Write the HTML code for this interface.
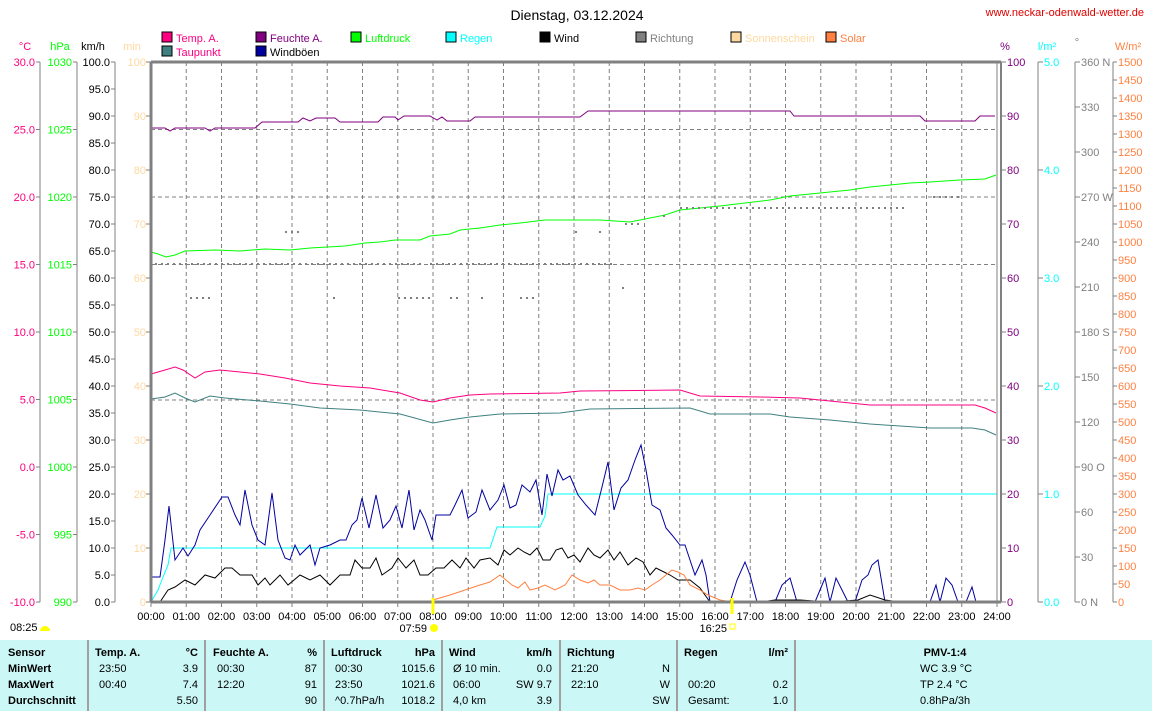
<!DOCTYPE html>
<html><head><meta charset="utf-8">
<style>
body{margin:0;background:#fff;width:1152px;height:711px;overflow:hidden;font-family:"Liberation Sans",sans-serif;}
svg{position:absolute;left:0;top:0}
text{font-family:"Liberation Sans",sans-serif;font-size:11px}
</style></head><body>
<svg id="s" width="1152" height="711" xmlns="http://www.w3.org/2000/svg">
<text x="577" y="20" text-anchor="middle" style="font-size:14px" fill="#000">Dienstag, 03.12.2024</text>
<text x="1144" y="16" text-anchor="end" fill="#e00000" style="font-size:11px">www.neckar-odenwald-wetter.de</text>
<g id="g"></g>
</svg>
<script>
const g=document.getElementById('g');let h='';
const X0=151,X1=997,Y0=62,Y1=602;
function L(x1,y1,x2,y2,c,w,d){h+=`<line x1="${x1}" y1="${y1}" x2="${x2}" y2="${y2}" stroke="${c}" stroke-width="${w||1}" ${d?`stroke-dasharray="${d}"`:''}/>`}
function T(x,y,t,c,a,st){h+=`<text x="${x}" y="${y}" fill="${c}" text-anchor="${a||'start'}" ${st?`style="${st}"`:''}>${t}</text>`}
function P(pts,c,w,d){h+=`<polyline fill="none" stroke="${c}" stroke-width="${w||1}" ${d?`stroke-dasharray="${d}"`:''} points="${pts.map(p=>p.join(',')).join(' ')}"/>`}
const hx=i=>X0+(X1-X0)*i/24;
// grid
for(let i=1;i<24;i++)L(hx(i),Y0,hx(i),Y1,'#808080',1,'4,3');
[129.5,197,264.5,400].forEach(y=>L(X0,y,X1,y,'#808080',1,'4,3'));
// legend
const leg=[[162,32,'#ff0080','Temp. A.','#ff0080'],[256,32,'#800080','Feuchte A.','#800080'],[351,32,'#00ff00','Luftdruck','#00ff00'],[446,32,'#00ffff','Regen','#00ffff'],[540,32,'#000','Wind','#000'],[636,32,'#808080','Richtung','#808080'],[731,32,'#ffd8a0','Sonnenschein','#ffd8a0'],[826,32,'#ff8040','Solar','#ff8040'],[162,46,'#408080','Taupunkt','#ff0080'],[256,46,'#0000a0','Windböen','#000']];
leg.forEach(l=>{h+=`<rect x="${l[0]}" y="${l[1]}" width="10" height="10" fill="${l[2]}" stroke="#000"/>`;T(l[0]+14,l[1]+10,l[3],l[4])});
// left axes
T(25,50,'°C','#ff0080','middle');T(60,50,'hPa','#00ff00','middle');T(93,50,'km/h','#000','middle');T(132,50,'min','#ffd8a0','middle');
L(40,Y0,40,Y1,'#808080');L(77,Y0,77,Y1,'#808080');L(115,Y0,115,Y1,'#808080');
for(let i=0;i<=8;i++){const y=Y0+i*67.5;L(36,y,40,y,'#808080');T(35,y+4,(30-5*i).toFixed(1),'#ff0080','end');L(73,y,77,y,'#808080');T(72,y+4,1030-5*i,'#00ff00','end');}
for(let i=0;i<=20;i++){const y=Y0+i*27;L(111,y,115,y,'#808080');T(110,y+4,(100-5*i).toFixed(1),'#000','end');}
for(let i=0;i<=10;i++){const y=Y0+i*54;L(146,y,151,y,'#808080');T(146,y+4,100-10*i,'#ffd8a0','end');}
// right axes
T(1005,50,'%','#800080','middle');T(1047,50,'l/m²','#00ffff','middle');T(1077,46,'°','#808080','middle');T(1128,50,'W/m²','#ff8040','middle');
L(1001,Y0,1001,Y1,'#808080',2);L(1038,Y0,1038,Y1,'#808080');L(1075,Y0,1075,Y1,'#808080');L(1113,Y0,1113,Y1,'#808080');
for(let i=0;i<=10;i++){const y=Y0+i*54;L(1001,y,1006,y,'#808080');T(1007,y+4,100-10*i,'#800080');}
for(let i=0;i<=5;i++){const y=Y0+i*108;L(1038,y,1043,y,'#808080');T(1044,y+4,(5-i).toFixed(1),'#00ffff');}
const dl={360:'360 N',270:'270 W',180:'180 S',90:'90  O',0:'0    N'};
for(let i=0;i<=12;i++){const y=Y0+i*45,v=360-30*i;L(1075,y,1080,y,'#808080');T(1081,y+4,dl[v]||v,'#808080');}
for(let i=0;i<=30;i++){const y=Y0+i*18;L(1113,y,1117,y,'#808080');T(1118,y+4,1500-50*i,'#ff8040');}
// series
P([[151,128],[165,128],[170,131],[175,128],[205,128],[210,131],[215,128],[255,128],[262,122],[298,122],[303,118],[310,121],[316,118],[335,118],[340,122],[378,122],[383,117],[395,117],[398,120],[404,116],[430,116],[437,120],[442,117],[447,121],[470,121],[475,117],[580,117],[588,111],[790,111],[794,116],[920,116],[925,121],[975,121],[980,116],[995,116]],'#800080');
P([[151,252],[158,254],[166,257],[175,255],[185,251],[215,250],[240,251],[265,249],[290,250],[310,248],[345,246],[365,243],[380,242],[395,240],[420,240],[430,236],[450,234],[460,230],[480,228],[500,225],[520,223],[545,220],[600,220],[630,222],[650,218],[665,215],[680,210],[700,208],[720,206],[745,203],[770,200],[790,196],[820,193],[850,190],[870,187],[890,185],[910,183],[930,182],[960,180],[985,179],[996,175]],'#00ff00');
P([[151,374],[165,370],[175,367],[183,370],[195,378],[205,372],[220,370],[240,372],[260,374],[285,378],[310,383],[340,386],[370,388],[400,393],[420,400],[433,402],[450,398],[470,395],[490,394],[560,393],[580,391],[680,390],[700,396],[760,397],[800,398],[840,402],[870,405],[975,405],[985,408],[996,413]],'#ff0080');
P([[151,399],[165,397],[175,393],[185,398],[195,402],[210,396],[225,398],[260,401],[290,404],[320,408],[360,410],[400,414],[433,423],[450,420],[470,417],[500,414],[560,413],[590,409],[690,408],[710,414],[770,414],[790,417],[830,420],[870,424],[930,428],[972,428],[985,430],[996,435]],'#408080');
P([[151,602],[158,590],[163,577],[168,565],[171,548],[490,548],[497,527],[540,527],[545,516],[548,494],[997,494]],'#00ffff');
P([[151,577],[160,577],[165,540],[169,506],[175,560],[183,548],[188,556],[195,545],[200,530],[210,515],[222,497],[228,497],[235,515],[240,525],[245,490],[252,525],[258,540],[265,545],[272,493],[278,540],[285,558],[290,560],[295,545],[300,555],[310,545],[315,565],[320,548],[330,545],[340,540],[346,540],[352,525],[357,520],[362,498],[369,528],[376,495],[383,528],[390,520],[396,506],[402,528],[409,490],[414,530],[420,510],[425,520],[432,540],[436,515],[450,515],[455,505],[462,490],[468,518],[476,512],[482,490],[490,510],[498,500],[504,485],[510,508],[516,505],[522,485],[530,492],[536,480],[542,515],[547,474],[552,496],[558,470],[563,480],[570,476],[578,495],[586,505],[595,515],[602,487],[608,462],[614,510],[621,488],[628,480],[635,460],[641,445],[646,470],[652,505],[660,510],[666,528],[672,535],[680,545],[685,545],[690,560],[695,575],[702,560],[706,575],[710,602],[730,602],[737,580],[745,562],[750,575],[757,602],[775,602],[782,585],[790,578],[797,602],[815,602],[820,590],[825,578],[830,602],[836,578],[842,590],[848,602],[855,602],[862,580],[868,575],[872,565],[878,560],[885,602],[930,602],[936,585],[940,602],[946,578],[952,585],[958,602],[966,602],[972,587],[976,602]],'#0000a0');
P([[151,602],[160,602],[168,590],[175,587],[185,580],[195,585],[205,575],[215,578],[225,568],[232,568],[240,575],[252,575],[258,585],[265,578],[270,585],[280,575],[288,585],[300,575],[310,580],[320,575],[330,585],[340,575],[350,575],[355,560],[362,568],[370,568],[376,558],[382,575],[392,568],[398,558],[406,568],[414,560],[420,575],[428,575],[436,568],[444,568],[452,560],[460,568],[466,558],[474,568],[480,560],[490,558],[498,565],[504,550],[510,555],[518,548],[524,552],[530,555],[537,548],[543,560],[550,560],[556,550],[562,548],[568,558],[574,555],[580,562],[588,548],[594,555],[600,558],[608,550],[614,560],[620,552],[628,565],[636,558],[643,562],[650,575],[656,568],[664,572],[670,575],[678,580],[690,580],[700,588],[710,602],[760,602],[775,600],[800,600],[830,602],[858,600],[870,595],[885,600],[900,602]],'#000');
P([[433,600],[450,595],[465,590],[480,585],[490,582],[500,575],[506,580],[512,585],[518,588],[525,582],[530,590],[538,588],[545,585],[555,590],[565,585],[572,575],[580,580],[588,583],[594,580],[600,585],[610,585],[620,590],[630,590],[638,588],[645,590],[652,585],[660,580],[666,575],[672,570],[678,572],[684,575],[690,585],[700,590],[708,595],[720,600],[732,602]],'#ff8040');
// direction dots
const dd='2,4';
L(155,264,425,264,'#808080',2,dd);L(430,264,612,264,'#808080',2,dd);L(190,298,212,298,'#808080',2,dd);L(398,298,432,298,'#808080',2,dd);L(450,298,460,298,'#808080',2,dd);L(520,298,537,298,'#808080',2,dd);
L(285,232,300,232,'#808080',2,dd);L(680,208,905,208,'#808080',2,dd);L(625,224,640,224,'#808080',2,dd);L(933,197,960,197,'#808080',2,dd);
h+=`<rect x="333" y="297" width="2" height="2" fill="#808080"/><rect x="481" y="297" width="2" height="2" fill="#808080"/><rect x="622" y="287" width="2" height="2" fill="#808080"/><rect x="575" y="231" width="2" height="2" fill="#808080"/><rect x="599" y="231" width="2" height="2" fill="#808080"/><rect x="663" y="215" width="2" height="2" fill="#808080"/>`;
// frame
L(X0,Y0,X1+4,Y0,'#808080',3);L(X0,Y0,X0,Y1,'#808080',3);L(X0,Y1,X1+4,Y1,'#808080',3);L(X1,Y0,X1,Y1,'#808080',1);
// time labels
for(let i=0;i<=24;i++){L(hx(i),Y1,hx(i),Y1+5,'#808080');T(hx(i),620,String(i).padStart(2,'0')+':00','#000','middle');}
L(433,598,433,614,'#ffff00',3);L(732,598,732,614,'#ffff00',3);
T(427,632,'07:59','#000','end');h+=`<circle cx="434" cy="628" r="4" fill="#ffff00"/>`;
T(727,632,'16:25','#000','end');h+=`<rect x="730" y="624" width="5" height="5" fill="none" stroke="#ffff00"/>`;
T(10,631,'08:25','#000');h+=`<path d="M40 631 a5 5 0 0 1 10 0z" fill="#ffff00"/>`;
// table
h+=`<rect x="0" y="640" width="1152" height="71" fill="#ccf7f7"/>`;
[88,205,324,442,560,677,795].forEach(x=>L(x,640,x,711,'#a0a0a0',2));
const b='font-weight:bold';
const rows=[656,672,688,704];
T(8,rows[0],'Sensor','#000','start',b);T(8,rows[1],'MinWert','#000','start',b);T(8,rows[2],'MaxWert','#000','start',b);T(8,rows[3],'Durchschnitt','#000','start',b);
function col(x1,x2,hd,un,vals){T(x1,rows[0],hd,'#000','start',b);T(x2,rows[0],un,'#000','end',b);vals.forEach((v,i)=>{if(v[0])T(x1+(v[2]||4),rows[i+1],v[0],'#000');if(v[1])T(x2,rows[i+1],v[1],'#000','end')});}
col(95,198,'Temp. A.','°C',[['23:50','3.9'],['00:40','7.4'],['','5.50']]);
col(213,317,'Feuchte A.','%',[['00:30','87'],['12:20','91'],['','90']]);
col(331,435,'Luftdruck','hPa',[['00:30','1015.6'],['23:50','1021.6'],['^0.7hPa/h','1018.2',0]]);
col(449,552,'Wind','km/h',[['Ø 10 min.','0.0',0],['06:00','SW 9.7'],['4,0 km','3.9']]);
col(567,670,'Richtung','',[['21:20','N'],['22:10','W'],['','SW']]);
col(684,788,'Regen','l/m²',[['',''],['00:20','0.2'],['Gesamt:','1.0',0]]);
T(945,rows[0],'PMV-1:4','#000','middle',b);T(920,rows[1],'WC 3.9 °C','#000');T(920,rows[2],'TP 2.4 °C','#000');T(920,rows[3],'0.8hPa/3h','#000');
g.innerHTML=h;
</script>
</body></html>
